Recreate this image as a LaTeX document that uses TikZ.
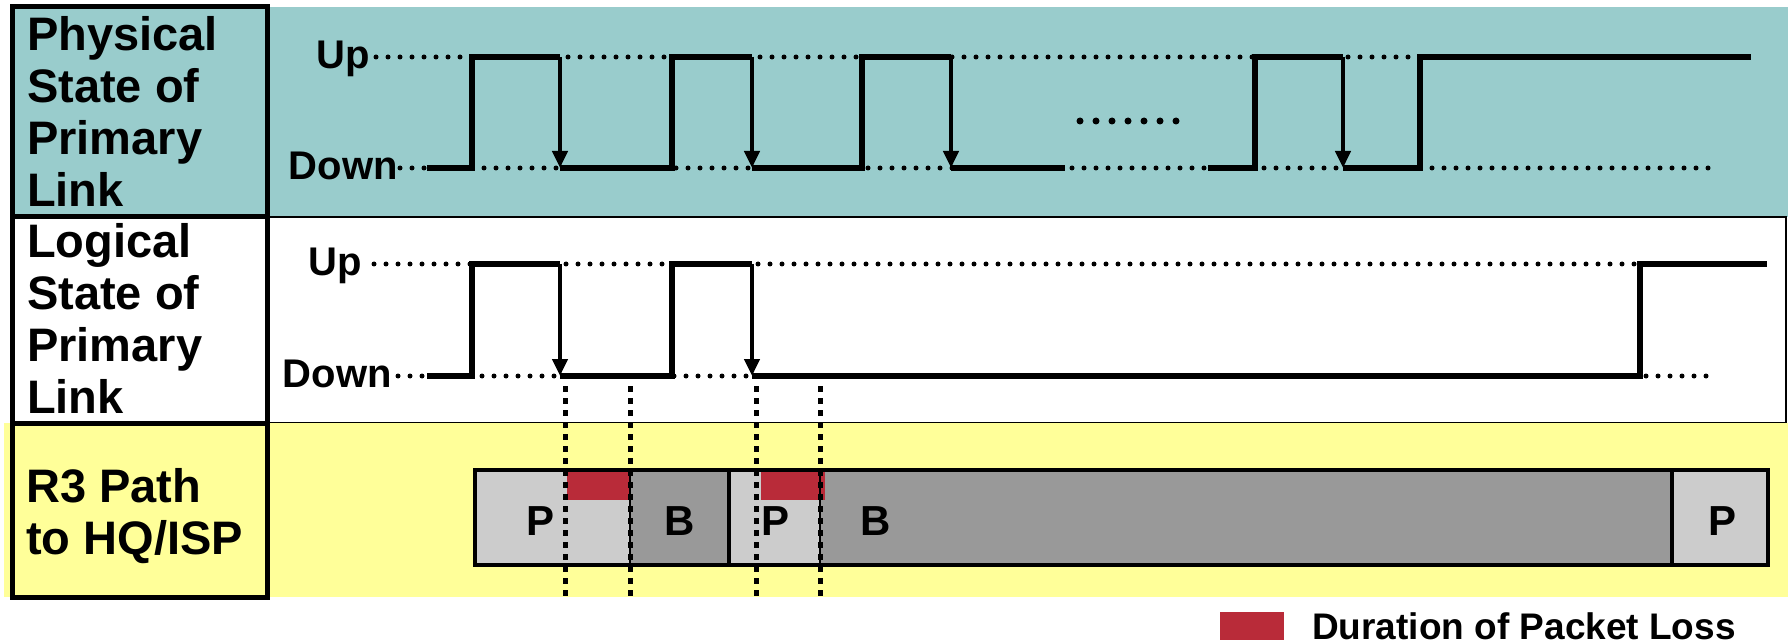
\documentclass[tikz,border=0pt]{standalone}
\usepackage{fontspec}
\setmainfont{Liberation Sans}
\usetikzlibrary{arrows.meta}

\definecolor{panelteal}{RGB}{153,204,204}
\definecolor{panelyellow}{RGB}{255,255,153}
\definecolor{lightbar}{RGB}{204,204,204}
\definecolor{darkbar}{RGB}{153,153,153}
\definecolor{loss}{RGB}{185,43,57}

\begin{document}
\begin{tikzpicture}[x=1pt, y=-1pt,
    rowlabel/.style={anchor=base west, align=left, inner sep=0, font=\fontsize{47}{52}\selectfont\bfseries},
    levellabel/.style={anchor=base east, inner sep=0, font=\fontsize{40}{44}\selectfont\bfseries},
    barlabel/.style={anchor=base, inner sep=0, font=\fontsize{42}{46}\selectfont\bfseries},
    seg/.style={line width=6pt},
    dots/.style={line width=5pt, line cap=round, dash pattern=on 0pt off 12pt},
    fall/.style={line width=4.5pt, -{Triangle[width=15pt,length=17pt]}},
    cut/.style={line width=5pt, dash pattern=on 6pt off 6pt}]
                \fill[white] (0,0) rectangle (1791,644);
                \useasboundingbox (0,0) rectangle (1791,644);

                \fill[panelteal] (12,7) rectangle (1788,217);
                \draw[line width=2pt, fill=white] (267,217) rectangle (1786,423);
                \fill[panelyellow] (4,423) rectangle (1788,597);
                \draw[line width=5pt] (12,7) rectangle (267,217);
                \draw[line width=5pt] (12,217) rectangle (267,423);
                \draw[line width=5pt] (12,423) rectangle (267,597);

                \node[rowlabel] (phys) at (27,207) {Physical\\State of\\Primary\\Link};
                \node[rowlabel] (logic) at (27,413) {Logical\\State of\\Primary\\Link};
                \node[rowlabel] (path) at (26,554) {R3 Path\\to HQ/ISP};

                \node[levellabel] (pup) at (370,68.5) {Up};
                \node[levellabel] (pdown) at (398,180) {Down};
                \node[levellabel] (lup) at (362,275.5) {Up};
                \node[levellabel] (ldown) at (392,387.5) {Down};

                \draw[dots] (376,57) -- (1420,57);
                \draw[dots] (400,168) -- (1713,168);
                \draw[dots] (374,264) -- (1640,264);
                \draw[dots] (398,376) -- (1713,376);

                \draw[seg] (427,168) -- (472,168) -- (472,57) -- (560,57);
                \draw[seg] (560,168) -- (672,168) -- (672,57) -- (752,57);
                \draw[seg] (752,168) -- (862,168) -- (862,57) -- (951,57);
                \draw[seg] (951,168) -- (1065,168);
                \draw[seg] (1208,168) -- (1255,168) -- (1255,57) -- (1343,57);
                \draw[seg] (1343,168) -- (1420,168) -- (1420,57) -- (1751,57);
                \foreach \x in {560,752,951,1343}
                    \draw[fall] (\x,57) -- (\x,168);
                \draw[line width=7pt, line cap=round, dash pattern=on 0pt off 16pt] (1080,121) -- (1180,121);

                \draw[seg] (427,376) -- (472,376) -- (472,264) -- (560,264);
                \draw[seg] (560,376) -- (672,376) -- (672,264) -- (752,264);
                \draw[seg] (752,376) -- (1640,376) -- (1640,264) -- (1767,264);
                \foreach \x in {560,752}
                    \draw[fall] (\x,264) -- (\x,376);

                \fill[lightbar] (475,470) rectangle (1768,565);
                \fill[darkbar] (630,470) rectangle (729,565);
                \fill[darkbar] (820,470) rectangle (1672,565);
                \fill[loss] (567,472) rectangle (631,500);
                \fill[loss] (761,472) rectangle (825,500);
                \draw[line width=1.5pt] (630,470) -- (630,565);
                \draw[line width=1.5pt] (820,470) -- (820,565);
                \draw[line width=4pt] (729,470) -- (729,565);
                \draw[line width=3.5pt] (1672,470) -- (1672,565);
                \draw[line width=4.5pt] (475,470) rectangle (1768,565);

                \node[barlabel] (p1) at (541,535) {P};
                \node[barlabel] (b1) at (680,535) {B};
                \node[barlabel] (p2) at (775,535) {P};
                \node[barlabel] (b2) at (876,535) {B};
                \node[barlabel] (p3) at (1722,535) {P};

                \foreach \x in {565,630,756,820}
                    \draw[cut] (\x,386) -- (\x,597);

                \node[fill=loss, minimum width=64pt, minimum height=28pt, inner sep=0] (legbox) at (1252,626) {};
                \node[anchor=base west, inner sep=0, font=\fontsize{37}{40}\selectfont\bfseries] (legtext) at (1312,639) {Duration of Packet Loss};
            \end{tikzpicture}
\end{document}
